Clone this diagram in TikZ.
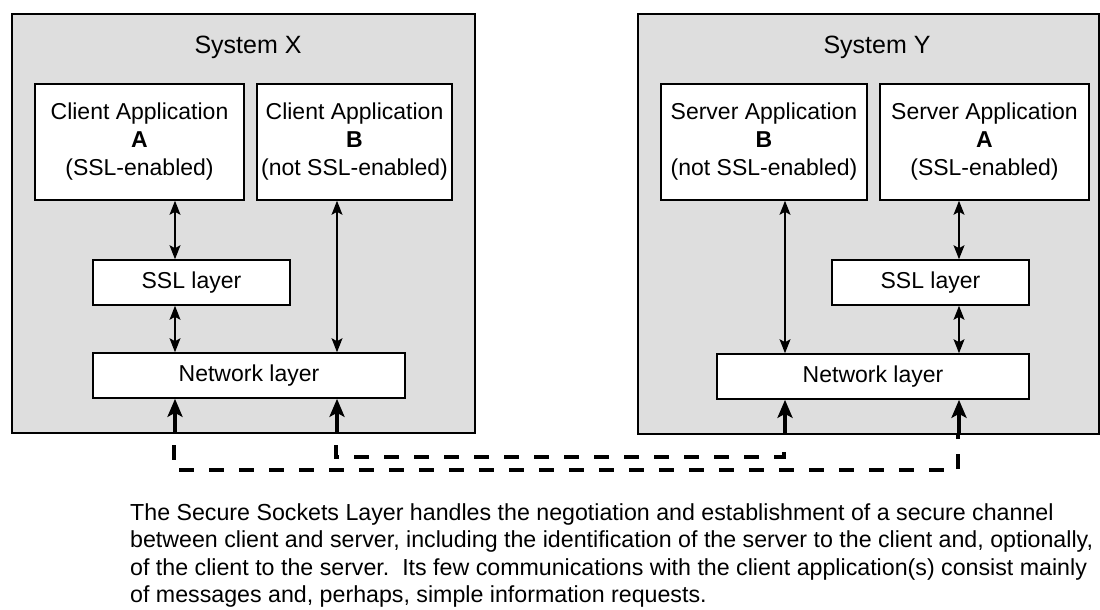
\documentclass[tikz,border=0pt]{standalone}
\usepackage{fontspec}
\setmainfont{Liberation Sans}
\usetikzlibrary{arrows.meta}
\begin{document}
\begin{tikzpicture}[x=1pt,y=-1pt,
  sysbox/.style={draw=black,line width=1.8pt,fill=gray!26,rectangle,inner sep=0pt},
  appbox/.style={draw=black,line width=1.6pt,fill=white,rectangle,inner sep=0pt,
    minimum height=116pt,align=center,font=\fontsize{23}{28}\selectfont},
  layerbox/.style={draw=black,line width=1.6pt,fill=white,rectangle,inner sep=0pt,
    minimum height=45pt,font=\fontsize{23}{28}\selectfont},
  titletext/.style={font=\fontsize{25}{30}\selectfont,inner sep=0pt},
  dbl/.style={line width=1.4pt,{Stealth[length=14pt,width=11pt,inset=3pt]}-{Stealth[length=14pt,width=11pt,inset=3pt]}},
  uparrow/.style={line width=3.5pt,-{Stealth[length=18pt,width=15pt,inset=4pt]}},
  dashline/.style={line width=3.5pt,dash pattern=on 15pt off 15pt},
  para/.style={font=\fontsize{23.2}{27.5}\selectfont,inner sep=0pt,anchor=base west}]
\useasboundingbox[fill=white] (0,0) rectangle (1100,610);
% systems
\node[sysbox,minimum width=463pt,minimum height=419pt] (sysX) at (243.5,223.5) {};
\node[sysbox,minimum width=461pt,minimum height=420pt] (sysY) at (868.5,224) {};
\node[titletext] (tX) at (248,47) {System X};
\node[titletext] (tY) at (877,47) {System Y};
% applications
\node[appbox,minimum width=209pt] (cA) at (139.5,142) {Client Application\\\textbf{A}\\(SSL-enabled)};
\node[appbox,minimum width=195pt] (cB) at (354.5,142) {Client Application\\\textbf{B}\\(not SSL-enabled)};
\node[appbox,minimum width=206pt] (sB) at (764,142) {Server Application\\\textbf{B}\\(not SSL-enabled)};
\node[appbox,minimum width=209pt] (sA) at (984.5,142) {Server Application\\\textbf{A}\\(SSL-enabled)};
% layers
\node[layerbox,minimum width=197pt] (sslX) at (191.5,282.5) {SSL layer};
\node[layerbox,minimum width=312pt] (netX) at (249,375.5) {Network layer};
\node[layerbox,minimum width=197pt] (sslY) at (930.5,282.5) {SSL layer};
\node[layerbox,minimum width=312pt] (netY) at (873,376.5) {Network layer};
% column coordinates
\coordinate (xa) at (175,0);
\coordinate (xb) at (337,0);
\coordinate (yb) at (785,0);
\coordinate (ya) at (959,0);
% internal arrows
\draw[dbl] (cA.south -| xa) -- (sslX.north -| xa);
\draw[dbl] (sslX.south -| xa) -- (netX.north -| xa);
\draw[dbl] (cB.south -| xb) -- (netX.north -| xb);
\draw[dbl] (sB.south -| yb) -- (netY.north -| yb);
\draw[dbl] (sA.south -| ya) -- (sslY.north -| ya);
\draw[dbl] (sslY.south -| ya) -- (netY.north -| ya);
% incoming arrows
\draw[uparrow] (sysX.south -| xa) -- (netX.south -| xa);
\draw[uparrow] (sysX.south -| xb) -- (netX.south -| xb);
\draw[uparrow] (sysY.south -| yb) -- (netY.south -| yb);
\draw[uparrow] (sysY.south -| ya) -- (netY.south -| ya);
% dashed connections
\coordinate (o1) at (174,445);
\coordinate (o2) at (174,470);
\coordinate (o3) at (958,470);
\coordinate (o4) at (958,435);
\coordinate (i1) at (336,445);
\coordinate (i2) at (336,457);
\coordinate (i3) at (784,457);
\coordinate (i4) at (784,443);
\draw[dashline] (o1) -- (o2) -- (o3) -- (o4);
\draw[dashline] (i1) -- (i2) -- (i3) -- (i4);
% caption
\node[para] (p1) at (130,520) {The Secure Sockets Layer handles the negotiation and establishment of a secure channel};
\node[para] (p2) at (130,547.5) {between client and server, including the identification of the server to the client and, optionally,};
\node[para] (p3) at (130,575) {of the client to the server.\ \ Its few communications with the client application(s) consist mainly};
\node[para] (p4) at (130,602.5) {of messages and, perhaps, simple information requests.};
\end{tikzpicture}
\end{document}
